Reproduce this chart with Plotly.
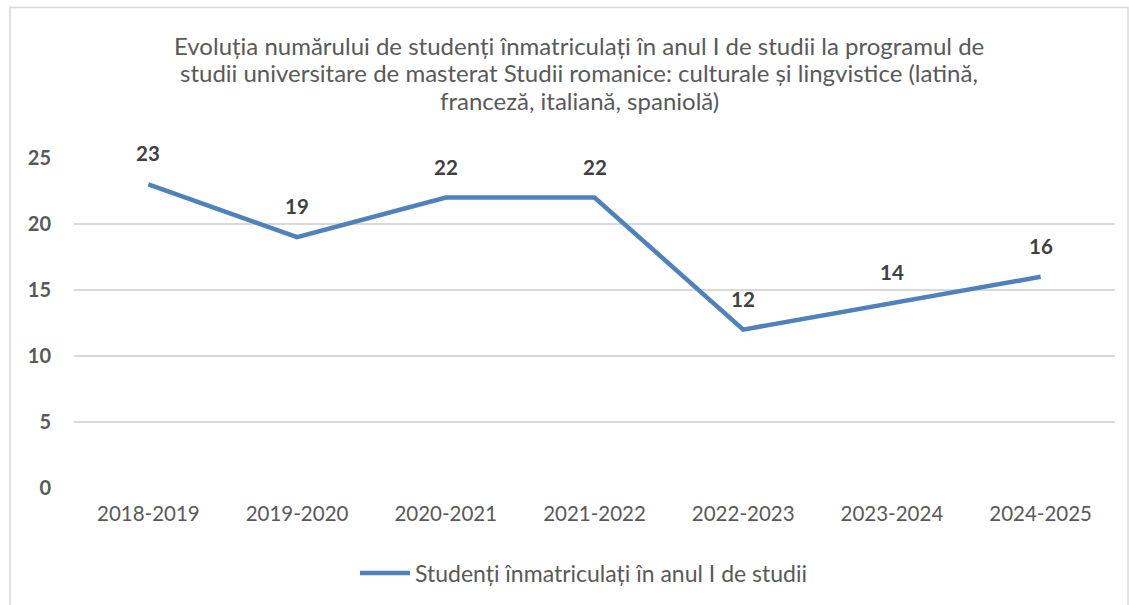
import plotly.graph_objects as go

years = ["2018-2019", "2019-2020", "2020-2021", "2021-2022", "2022-2023", "2023-2024", "2024-2025"]
students = [23, 19, 22, 22, 12, 14, 16]
series_name = "Studenți înmatriculați în anul I de studii"
title_lines = [
    "Evoluția numărului de studenți înmatriculați în anul I de studii la programul de",
    "studii universitare de masterat Studii romanice: culturale și lingvistice (latină,",
    "franceză, italiană, spaniolă)",
]

W, H = 1129, 605
L, R, T, B = 74, 14, 158, 116
pw, ph = W - L - R, H - T - B
FONT = "Lato"

def px2x(px):
    return (px - L) / pw

def py2y(py):
    return (H - B - py) / ph

fig = go.Figure()
fig.add_trace(go.Scatter(
    x=years, y=students, mode="lines", name=series_name,
    line=dict(color="#4F81BD", width=4.5),
))

for yr, v in zip(years, students):
    fig.add_annotation(x=yr, y=v, text=f"<b>{v}</b>", showarrow=False, yshift=31,
                       font=dict(family=FONT, size=20.5, color="#404040"))

# title lines (separate to control line spacing)
for i, line in enumerate(title_lines):
    fig.add_annotation(xref="paper", yref="paper", x=px2x(579), y=py2y(45 + 27.5 * i),
                       text=line, showarrow=False, xanchor="center", yanchor="middle",
                       font=dict(family=FONT, size=24, color="#595959"))

fig.update_layout(
    width=W, height=H,
    margin=dict(l=L, r=R, t=T, b=B),
    paper_bgcolor="white", plot_bgcolor="white",
    font=dict(family=FONT, color="#595959"),
    showlegend=True,
    legend=dict(orientation="h", x=px2x(584), xanchor="center", y=py2y(573), yanchor="middle",
                font=dict(family=FONT, size=23, color="#595959"), itemwidth=50),
    xaxis=dict(range=[-0.5, 6.5], showgrid=False, showline=False, zeroline=False,
               tickfont=dict(family=FONT, size=20.5, color="#595959"), ticks="", ticklabelstandoff=11),
    yaxis=dict(range=[0, 25], dtick=5, showgrid=True, gridcolor="#D9D9D9", gridwidth=1.5,
               zeroline=False, showline=False, ticks="",
               tickfont=dict(family=FONT, size=20, color="#595959", weight="bold"), ticklabelstandoff=22),
    shapes=[dict(type="rect", xref="paper", yref="paper",
                 x0=px2x(10), x1=px2x(1128), y0=py2y(610), y1=py2y(7),
                 line=dict(color="#D9D9D9", width=1.5), fillcolor="rgba(0,0,0,0)")],
)

fig.write_html("out.html", config={"displayModeBar": False},
               post_script="document.body.style.margin='0';document.body.style.overflow='hidden';")
